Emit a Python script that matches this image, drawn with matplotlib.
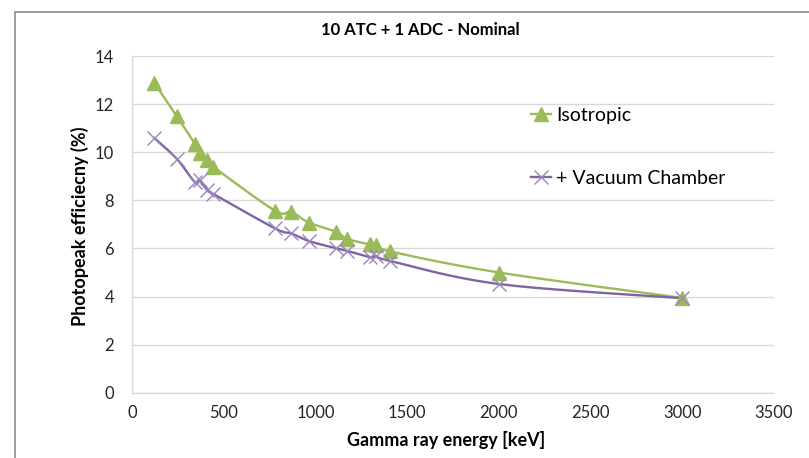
import numpy as np
import matplotlib
matplotlib.use("Agg")
import matplotlib.pyplot as plt
from matplotlib.lines import Line2D
from matplotlib.patches import Rectangle

plt.rcParams['font.family'] = ['Lato', 'DejaVu Sans']

# ---- data ----
energy_iso = [122, 245, 344, 368, 411, 444, 779, 867, 964, 1112, 1173, 1299, 1332, 1408, 2000, 3000]
eff_iso = [12.9, 11.5, 10.35, 9.98, 9.67, 9.4, 7.58, 7.53, 7.08, 6.7, 6.4, 6.17, 6.16, 5.88, 5.0, 3.94]
energy_vac = [122, 245, 344, 368, 411, 444, 779, 867, 964, 1112, 1173, 1299, 1332, 1408, 2000, 3000]
eff_vac = [10.6, 9.73, 8.75, 8.85, 8.42, 8.27, 6.84, 6.63, 6.31, 6.01, 5.9, 5.64, 5.69, 5.48, 4.52, 3.93]
series_labels = ["Isotropic", "+ Vacuum Chamber"]
title = "10 ATC + 1 ADC - Nominal"
xlabel = "Gamma ray energy [keV]"
ylabel = "Photopeak efficiecny (%)"
xticks = [0, 500, 1000, 1500, 2000, 2500, 3000, 3500]
yticks = [0, 2, 4, 6, 8, 10, 12, 14]

GREEN = "#9BBB59"
PURPLE = "#8064A2"
GRID = "#D9D9D9"

W, H = 809, 458
fig = plt.figure(figsize=(W / 100, H / 100), dpi=100)
ax = fig.add_axes([132 / W, 1 - 392.5 / H, (774 - 132) / W, (392.5 - 56.5) / H])
ax.set_xlim(0, 3500)
ax.set_ylim(0, 14)

# outer chart frame
fig.patches.append(Rectangle((15 / W, -0.1), 1.2, 1 - 12 / H + 0.1, transform=fig.transFigure,
                             fill=False, edgecolor="#8C8C8C", linewidth=1.2))


def smooth(ax, xs, ys, n=20):
    """Excel-like smoothed line (Catmull-Rom / Bezier) computed in display space."""
    pts = ax.transData.transform(np.column_stack([xs, ys]))
    out = []
    m = len(pts)
    for i in range(m - 1):
        p0 = pts[i - 1] if i > 0 else pts[i]
        p1 = pts[i]
        p2 = pts[i + 1]
        p3 = pts[i + 2] if i + 2 < m else pts[i + 1]
        c1 = p1 + (p2 - p0) / 6.0
        c2 = p2 - (p3 - p1) / 6.0
        t = np.linspace(0, 1, n, endpoint=(i == m - 2))[:, None]
        seg = ((1 - t) ** 3) * p1 + 3 * ((1 - t) ** 2) * t * c1 + 3 * (1 - t) * t ** 2 * c2 + t ** 3 * p2
        out.append(seg)
    out = np.vstack(out)
    d = ax.transData.inverted().transform(out)
    return d[:, 0], d[:, 1]


ax.grid(axis='y', color=GRID, linewidth=1.0)
ax.set_axisbelow(True)
for s in ['top', 'right']:
    ax.spines[s].set_visible(False)
for s in ['left', 'bottom']:
    ax.spines[s].set_color(GRID)
    ax.spines[s].set_linewidth(1.0)

sx, sy = smooth(ax, energy_iso, eff_iso)
ax.plot(sx, sy, color=GREEN, linewidth=1.7, zorder=3)
ax.plot(energy_iso, eff_iso, linestyle='none', marker='^', markersize=9.5,
        color=GREEN, markeredgecolor=GREEN, zorder=4)

sx, sy = smooth(ax, energy_vac, eff_vac)
ax.plot(sx, sy, color=PURPLE, linewidth=1.7, zorder=3)
ax.plot(energy_vac, eff_vac, linestyle='none', marker='x', markersize=9.5, markeredgewidth=1.0,
        color="#9A86BF", zorder=5)

ax.set_xticks(xticks)
ax.set_yticks(yticks)
ax.tick_params(axis='both', length=0, labelsize=12, colors="#262626")
ax.tick_params(axis='y', pad=13)
ax.tick_params(axis='x', pad=9)

fig.text(420 / W, 1 - 30 / H, title, ha='center', va='center', fontsize=12, fontweight='bold')
fig.text(446 / W, 1 - 440 / H, xlabel, ha='center', va='center', fontsize=13, fontweight='bold')
fig.text(80 / W, 1 - 226 / H, ylabel, ha='center', va='center', fontsize=13, fontweight='bold',
         rotation=90)

handles = [Line2D([], [], color=GREEN, linewidth=1.7, marker='^', markersize=9.5),
           Line2D([], [], color=PURPLE, linewidth=1.7, marker='x', markersize=9.5,
                  markeredgecolor="#9A86BF", markeredgewidth=1.0)]
fig.legend(handles, series_labels, loc='upper left', bbox_to_anchor=(531 / W, 1 - 107 / H),
           frameon=False, fontsize=14, handlelength=1.05, handletextpad=0.25, labelspacing=2.35,
           borderpad=0, borderaxespad=0)

fig.savefig("out.png", dpi=100)
